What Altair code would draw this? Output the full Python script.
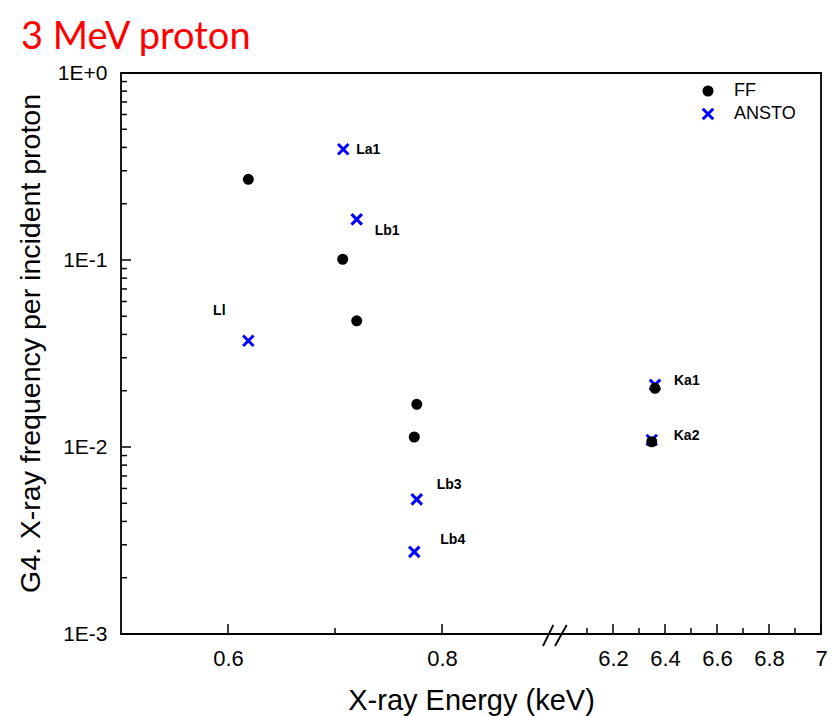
import altair as alt
import pandas as pd

# ---------------- data ----------------
ff_x = [0.619, 0.7072, 0.7203, 0.7764, 0.7741, 6.3615, 6.349]
ff_y = [0.270, 0.1009, 0.0473, 0.01692, 0.01131, 0.0206, 0.01067]

ansto_x = [0.7077, 0.7203, 0.619, 0.7764, 0.7741, 6.3615, 6.349]
ansto_y = [0.391, 0.165, 0.0370, 0.00525, 0.00275, 0.0215, 0.0109]
ansto_labels = ["La1", "Lb1", "Ll", "Lb3", "Lb4", "Ka1", "Ka2"]

series_names = ["FF", "ANSTO"]

x_major = [0.6, 0.8, 6.2, 6.4, 6.6, 6.8, 7.0]
x_minor = [0.7, 6.1, 6.3, 6.5, 6.7, 6.9]
y_major = [0.001, 0.01, 0.1, 1.0]
y_minor = [m * d for d in (0.001, 0.01, 0.1) for m in range(2, 10)]

# broken x axis: 0.5-0.9 then 6.0-7.0
x_domain = [0.5, 0.9, 6.0, 7.0]
break_slash_1 = [0.8944, 2.73]
break_slash_2 = [3.45, 6.022]

W, H = 700, 561

# ---------------- frames ----------------
pts = pd.DataFrame({
    "x": ansto_x + ff_x,
    "y": ansto_y + ff_y,
    "series": ["ANSTO"] * len(ansto_x) + ["FF"] * len(ff_x),
})
lab = pd.DataFrame({"x": ansto_x, "y": ansto_y, "label": ansto_labels})
xmaj = pd.DataFrame({"x": x_major})
xmin = pd.DataFrame({"x": x_minor})
ymaj = pd.DataFrame({"y": y_major})
ymin = pd.DataFrame({"y": y_minor})
brk = pd.DataFrame({"x": [break_slash_1[0], break_slash_2[0]],
                    "x2": [break_slash_1[1], break_slash_2[1]]})

xscale = alt.Scale(domain=x_domain, range=[0, 428, 440, W], nice=False, zero=False)
yscale = alt.Scale(type="log", domain=[0.001, 1.0], nice=False)

FONT = "Liberation Sans"

xaxis = alt.Axis(
    title="X-ray Energy (keV)", values=x_major,
    labelExpr="datum.value == 7 ? '7' : format(datum.value, '.1f')",
    ticks=False, tickSize=0, domain=False, grid=False,
    labelFont=FONT, labelFontSize=22, labelColor="black",
    labelBaseline="alphabetic", labelPadding=31, labelFlush=False, labelOverlap=False,
    titleFont=FONT, titleFontSize=29, titleFontWeight="normal", titleColor="black",
    titleBaseline="alphabetic", titleY=75,
)
yaxis = alt.Axis(
    title="G4. X-ray frequency per incident proton", values=y_major,
    labelExpr="upper(format(datum.value, '.0e'))",
    ticks=False, tickSize=0, domain=False, grid=False,
    labelFont=FONT, labelFontSize=21, labelColor="black",
    labelPadding=14, labelFlush=False, labelOverlap=False,
    titleFont=FONT, titleFontSize=28.5, titleFontWeight="normal", titleColor="black",
    titleAngle=-90, titleBaseline="alphabetic", titleAlign="center",
    titleX=-82, titleY=270,
)

X = alt.X("x:Q", scale=xscale, axis=xaxis)
Y = alt.Y("y:Q", scale=yscale, axis=yaxis)

cross_path = "M-1.3,-1.3L1.3,1.3M1.3,-1.3L-1.3,1.3"
leg = alt.Legend(title=None, orient="none", legendX=578, legendY=9,
                 labelFont=FONT, labelFontSize=18, labelColor="black",
                 symbolSize=65, symbolStrokeWidth=3, labelOffset=17,
                 rowPadding=0, padding=0)

points = alt.Chart(pts).mark_point(strokeWidth=3, size=65, opacity=1).encode(
    x=X, y=Y,
    shape=alt.Shape("series:N", scale=alt.Scale(domain=series_names, range=["circle", cross_path]), legend=leg),
    stroke=alt.Stroke("series:N", scale=alt.Scale(domain=series_names, range=["black", "blue"]), legend=leg),
    fill=alt.Fill("series:N", scale=alt.Scale(domain=series_names, range=["black", "transparent"]), legend=leg),
    order=alt.Order("series:N", sort="ascending"),
)

label_style = {
    "La1": dict(dx=13, dy=1, align="left"),
    "Lb1": dict(dx=18, dy=12, align="left"),
    "Ll": dict(dx=-29, dy=-30, align="center"),
    "Lb3": dict(dx=20, dy=-14, align="left"),
    "Lb4": dict(dx=26, dy=-12, align="left"),
    "Ka1": dict(dx=19, dy=-4, align="left"),
    "Ka2": dict(dx=22, dy=-4, align="left"),
}
text_layers = []
for name in ansto_labels:
    st = label_style[name]
    text_layers.append(
        alt.Chart(lab).transform_filter(alt.datum.label == name)
        .mark_text(font=FONT, fontSize=14, fontWeight="bold", color="black",
                   baseline="middle", **st)
        .encode(x=X, y=Y, text="label:N")
    )

xt_major = alt.Chart(xmaj).mark_rule(color="black", strokeWidth=1.5).encode(
    x=X, y=alt.value(H), y2=alt.value(H - 10))
xt_minor = alt.Chart(xmin).mark_rule(color="black", strokeWidth=1.5).encode(
    x=X, y=alt.value(H), y2=alt.value(H - 6))
yt_major = alt.Chart(ymaj).mark_rule(color="black", strokeWidth=1.5).encode(
    y=Y, x=alt.value(0), x2=alt.value(10))
yt_minor = alt.Chart(ymin).mark_rule(color="black", strokeWidth=1.5).encode(
    y=Y, x=alt.value(0), x2=alt.value(6))
breaks = alt.Chart(brk).mark_rule(color="black", strokeWidth=1.8).encode(
    x=X, x2="x2:Q",
    y=alt.value(H + 12), y2=alt.value(H - 9))

chart = alt.layer(
    points, *text_layers, xt_major, xt_minor, yt_major, yt_minor, breaks
).properties(
    width=W, height=H,
    autosize=alt.AutoSizeParams(type="none"),
    padding={"left": 121, "top": 73, "right": 16, "bottom": 82},
    title=alt.TitleParams("3 MeV proton", anchor="start", frame="group", dx=-100,
                          color="red", font="Lato", fontSize=38, fontWeight="normal",
                          baseline="alphabetic", offset=-25),
).configure(
    background="white"
).configure_view(
    stroke="black", strokeWidth=1.8
)

chart.save("out.html", embed_options={"renderer": "svg", "actions": False})
